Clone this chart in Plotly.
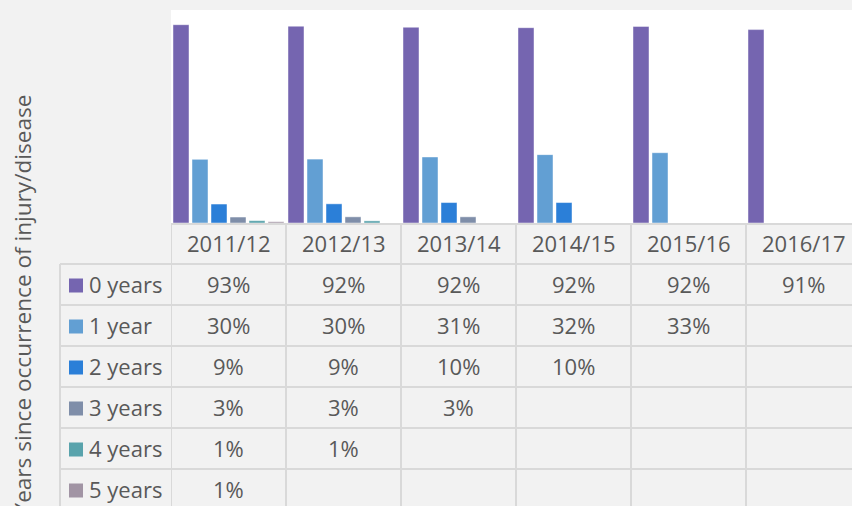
import plotly.graph_objects as go

# ---- data ----
categories = ["2011/12", "2012/13", "2013/14", "2014/15", "2015/16", "2016/17"]
series_names = ["0 years", "1 year", "2 years", "3 years", "4 years", "5 years"]
years_0 = [93.1, 92.4, 91.9, 91.7, 92.3, 90.8]
years_1 = [29.9, 30.0, 31.0, 32.1, 33.0]
years_2 = [8.9, 9.0, 9.6, 9.6]
years_3 = [2.8, 2.9, 2.9]
years_4 = [1.1, 1.0]
years_5 = [0.6]
series_values = [years_0, years_1, years_2, years_3, years_4, years_5]
colors = ["#7565b0", "#629fd3", "#2b7fd8", "#7f8ea9", "#59a3ac", "#a194a4"]
y_title = "Years since occurrence of injury/disease"

# ---- layout geometry (pixels) ----
W, H = 852, 506
PLOT_LEFT, PLOT_TOP, PLOT_BOTTOM = 171, 10, 223
PLOT_W = W - PLOT_LEFT
PLOT_H = PLOT_BOTTOM - PLOT_TOP
CAT_PX = 115
HEADER_BOTTOM = 264
ROW_H = 41
LEGEND_LEFT = 60
LINE_COLOR = "#d9d9d9"
TEXT_COLOR = "#595959"
FONT = "Open Sans"
FS = 22


def py(p):
    return (PLOT_BOTTOM - p) / PLOT_H


def px(p):
    return (p - PLOT_LEFT) / PLOT_W


fig = go.Figure()
for name, vals, col in zip(series_names, series_values, colors):
    fig.add_trace(go.Bar(
        x=categories[:len(vals)], y=vals, name=name,
        marker=dict(color=col, line=dict(color="rgba(255,255,255,0.45)", width=1)),
        showlegend=False, hoverinfo="skip",
    ))

shapes = []
annotations = []
bottom = H + 20
font = dict(family=FONT, size=FS, color=TEXT_COLOR)
# header top line
shapes.append(dict(type="line", xref="paper", yref="paper", x0=0, x1=1.05,
                   y0=py(PLOT_BOTTOM + 1), y1=py(PLOT_BOTTOM + 1),
                   line=dict(color=LINE_COLOR, width=2)))
# row lines
for k in range(len(series_names) + 1):
    yy = py(HEADER_BOTTOM + ROW_H * k)
    shapes.append(dict(type="line", xref="paper", yref="paper", x0=px(LEGEND_LEFT), x1=1.05,
                       y0=yy, y1=yy, line=dict(color=LINE_COLOR, width=2)))
# vertical lines
for i in range(len(categories) + 1):
    shapes.append(dict(type="line", xref="x", yref="paper", x0=i - 0.5, x1=i - 0.5,
                       y0=py(PLOT_BOTTOM + 1), y1=py(bottom), line=dict(color=LINE_COLOR, width=2)))
shapes.append(dict(type="line", xref="paper", yref="paper", x0=px(LEGEND_LEFT), x1=px(LEGEND_LEFT),
                   y0=py(HEADER_BOTTOM), y1=py(bottom), line=dict(color=LINE_COLOR, width=2)))

# header labels
for i, c in enumerate(categories):
    annotations.append(dict(x=i, y=py((PLOT_BOTTOM + HEADER_BOTTOM) / 2 - 0.5), xref="x", yref="paper",
                            xanchor="center", yanchor="middle",
                            text=c, showarrow=False, font=font))
# rows
for r, (name, vals, col) in enumerate(zip(series_names, series_values, colors)):
    yc = HEADER_BOTTOM + ROW_H * r + ROW_H / 2
    shapes.append(dict(type="rect", xref="paper", yref="paper", x0=px(69), x1=px(83),
                       y0=py(yc - 6), y1=py(yc + 8), fillcolor=col, line=dict(width=0)))
    annotations.append(dict(x=px(87), y=py(yc - 1), xref="paper", yref="paper", xanchor="left",
                            yanchor="middle", text=name, showarrow=False, font=font))
    for i, v in enumerate(vals):
        annotations.append(dict(x=i, y=py(yc - 1), xref="x", yref="paper", text=f"{v:.0f}%",
                                xanchor="center", yanchor="middle", showarrow=False, font=font))

annotations.append(dict(x=px(22), y=py(93), xref="paper", yref="paper", text=y_title,
                        textangle=-90, xanchor="center", yanchor="top", showarrow=False,
                        font=dict(family=FONT, size=22.6, color=TEXT_COLOR)))

fig.update_layout(
    width=W, height=H,
    margin=dict(l=PLOT_LEFT, r=0, t=PLOT_TOP, b=H - PLOT_BOTTOM, pad=0),
    paper_bgcolor="#f2f2f2", plot_bgcolor="#ffffff",
    barmode="group", bargap=1 / CAT_PX, bargroupgap=3 / 19,
    xaxis=dict(type="category", categoryorder="array", categoryarray=categories,
               range=[-0.5, -0.5 + PLOT_W / CAT_PX], showticklabels=False, showgrid=False,
               zeroline=False, showline=False, fixedrange=True),
    yaxis=dict(range=[0, 100], showticklabels=False, showgrid=False, zeroline=False,
               showline=False, fixedrange=True),
    shapes=shapes, annotations=annotations,
)

fig.write_html("out.html", config={"displayModeBar": False},
               post_script="document.body.style.margin='0';document.body.style.overflow='hidden';")
